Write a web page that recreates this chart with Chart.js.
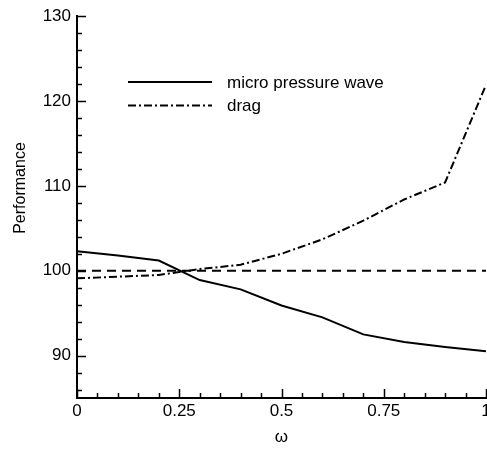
<!DOCTYPE html>
<html>
<head>
<meta charset="utf-8">
<script src="https://cdn.jsdelivr.net/npm/chart.js@4"></script>
<style>
  html, body { margin: 0; padding: 0; background: #fff; }
  #wrap { width: 487px; height: 449px; }
</style>
</head>
<body>
<div id="wrap"><canvas id="perfChart" width="487" height="449"></canvas></div>
<script>
// Data
const omega = [0, 0.1, 0.2, 0.3, 0.4, 0.5, 0.6, 0.7, 0.8, 0.9, 1];
const microPressureWave = [102.3, 101.8, 101.2, 98.9, 97.8, 95.9, 94.5, 92.5, 91.6, 91.0, 90.5];
const drag = [99.1, 99.3, 99.5, 100.2, 100.7, 102.0, 103.7, 105.9, 108.4, 110.4, 121.9];
const reference = [100, 100, 100, 100, 100, 100, 100, 100, 100, 100, 100];
const xTicks = [0, 0.25, 0.5, 0.75, 1];
const yTicks = [90, 100, 110, 120, 130];

const FONT = '"Liberation Sans", Arial, Helvetica, sans-serif';

const toPoints = (ys) => ys.map((y, i) => ({ x: omega[i], y: y }));

// Inward tick marks, titles and the legend box
const decorPlugin = {
    id: 'decor',
    afterDraw(chart) {
        const { ctx, chartArea, scales } = chart;
        const xs = scales.x, ys = scales.y;
        ctx.save();
        ctx.strokeStyle = '#000';
        ctx.lineWidth = 1.5;

        // x ticks every 0.05, major at labelled values
        for (let i = 0; i <= 20; i++) {
            const v = i * 0.05;
            const px = Math.round(xs.getPixelForValue(v)) + 0.5;
            const len = (i % 5 === 0) ? 9 : 5;
            ctx.beginPath();
            ctx.moveTo(px, chartArea.bottom);
            ctx.lineTo(px, chartArea.bottom - len);
            ctx.stroke();
        }
        // y ticks every 2, major every 10
        for (let v = 86; v <= 130; v += 2) {
            const py = Math.round(ys.getPixelForValue(v)) + 0.5;
            const len = (v % 10 === 0) ? 9 : 5;
            ctx.beginPath();
            ctx.moveTo(chartArea.left, py);
            ctx.lineTo(chartArea.left + len, py);
            ctx.stroke();
        }

        // y axis title
        ctx.fillStyle = '#000';
        ctx.font = '16px ' + FONT;
        ctx.translate(25, 188);
        ctx.rotate(-Math.PI / 2);
        ctx.textAlign = 'center';
        ctx.textBaseline = 'alphabetic';
        ctx.fillText('Performance', 0, 0);
        ctx.restore();

        // legend (only the two labelled series)
        ctx.save();
        const entries = chart.data.datasets.filter(d => d.label);
        entries.forEach((ds, i) => {
            const y = 82 + i * 23.5;
            ctx.strokeStyle = ds.borderColor;
            ctx.lineWidth = ds.borderWidth;
            ctx.setLineDash(ds.borderDash || []);
            ctx.beginPath();
            ctx.moveTo(128, y);
            ctx.lineTo(212, y);
            ctx.stroke();
            ctx.setLineDash([]);
            ctx.fillStyle = '#000';
            ctx.font = '17px ' + FONT;
            ctx.textAlign = 'left';
            ctx.textBaseline = 'middle';
            ctx.fillText(ds.label, 227, y + 1);
        });
        ctx.restore();
    }
};

function initPerformanceChart() {
    const ctx = document.getElementById('perfChart');

    new Chart(ctx, {
        type: 'line',
        data: {
            datasets: [
                {
                    label: 'micro pressure wave',
                    data: toPoints(microPressureWave),
                    borderColor: '#000',
                    borderWidth: 2,
                    pointRadius: 0,
                    fill: false
                },
                {
                    label: 'drag',
                    data: toPoints(drag),
                    borderColor: '#000',
                    borderWidth: 2,
                    borderDash: [8, 3, 2, 3],
                    pointRadius: 0,
                    fill: false
                },
                {
                    label: '',
                    data: toPoints(reference),
                    borderColor: '#000',
                    borderWidth: 2,
                    borderDash: [9, 6],
                    pointRadius: 0,
                    fill: false
                }
            ]
        },
        options: {
            responsive: false,
            animation: false,
            layout: {
                padding: { top: 16, right: 1, left: 0, bottom: 0 }
            },
            plugins: {
                legend: { display: false },
                tooltip: { enabled: false }
            },
            scales: {
                x: {
                    type: 'linear',
                    min: 0,
                    max: 1,
                    afterBuildTicks: (scale) => {
                        scale.ticks = xTicks.map(v => ({ value: v }));
                    },
                    afterFit: (scale) => {
                        scale.height = 51;
                        scale.paddingLeft = 0;
                        scale.paddingRight = 0;
                    },
                    ticks: {
                        color: '#000',
                        font: { family: FONT, size: 17 },
                        padding: 3,
                        maxRotation: 0,
                        callback: (v) => String(v)
                    },
                    grid: { display: true, drawOnChartArea: false, drawTicks: false },
                    border: { display: true, color: '#000', width: 2 },
                    title: {
                        display: true,
                        text: 'ω',
                        color: '#000',
                        font: { family: FONT, size: 17 },
                        padding: { top: 0, bottom: 1 }
                    }
                },
                y: {
                    type: 'linear',
                    min: 85,
                    max: 130,
                    afterBuildTicks: (scale) => {
                        scale.ticks = yTicks.map(v => ({ value: v }));
                    },
                    afterFit: (scale) => {
                        scale.width = 77;
                    },
                    ticks: {
                        color: '#000',
                        font: { family: FONT, size: 17 },
                        padding: 6
                    },
                    grid: { display: true, drawOnChartArea: false, drawTicks: false },
                    border: { display: true, color: '#000', width: 2 }
                }
            }
        },
        plugins: [decorPlugin]
    });
}

initPerformanceChart();
</script>
</body>
</html>
